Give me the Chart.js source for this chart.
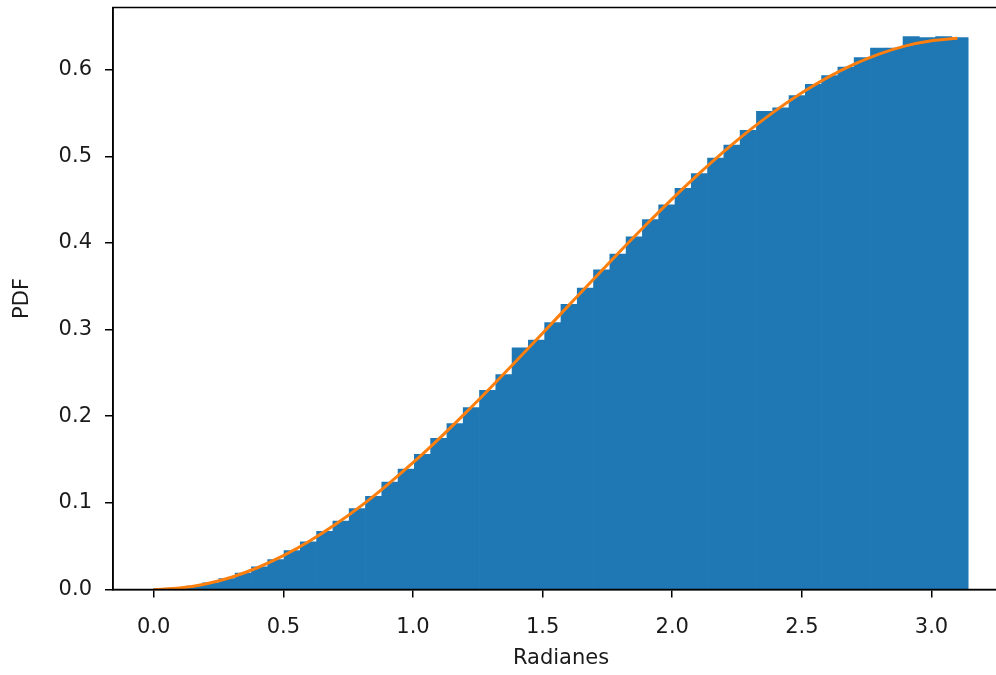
<!DOCTYPE html>
<html>
<head>
<meta charset="utf-8">
<script src="https://cdn.jsdelivr.net/npm/chart.js@4.4.1/dist/chart.umd.min.js"></script>
<style>
  html, body { margin: 0; padding: 0; background: #fff; overflow: hidden; }
  #wrap { width: 996px; height: 675px; overflow: hidden; }
</style>
</head>
<body>
<div id="wrap"><canvas id="grafica" width="1009" height="675"></canvas></div>
<script>
// histograma: 50 clases entre 0 y pi
var nBins = 50;
var binMax = 3.14159;
var alturas = [
  0.0003, 0.0016, 0.0040, 0.0078, 0.0125, 0.0190, 0.0262, 0.0345, 0.0448, 0.0550,
  0.0672, 0.0790, 0.0935, 0.1075, 0.1240, 0.1390, 0.1560, 0.1745, 0.1915, 0.2100,
  0.2300, 0.2480, 0.2790, 0.2880, 0.3080, 0.3290, 0.3480, 0.3690, 0.3870, 0.4070,
  0.4270, 0.4440, 0.4630, 0.4800, 0.4980, 0.5130, 0.5300, 0.5520, 0.5560, 0.5700,
  0.5830, 0.5930, 0.6030, 0.6140, 0.6250, 0.6250, 0.6380, 0.6370, 0.6380, 0.6370
];

// curva teorica (puntos leidos)
var curvaX = [0.0, 0.1, 0.2, 0.3, 0.4, 0.5, 0.6, 0.7, 0.8, 0.9, 1.0, 1.1, 1.2, 1.3, 1.4, 1.5,
              1.6, 1.7, 1.8, 1.9, 2.0, 2.1, 2.2, 2.3, 2.4, 2.5, 2.6, 2.7, 2.8, 2.9, 3.0, 3.1];
var curvaY = [0.0000, 0.0016, 0.0064, 0.0142, 0.0251, 0.0390, 0.0556, 0.0749, 0.0965, 0.1205,
              0.1463, 0.1739, 0.2030, 0.2332, 0.2642, 0.2958, 0.3276, 0.3593, 0.3906, 0.4212,
              0.4508, 0.4790, 0.5056, 0.5304, 0.5530, 0.5733, 0.5911, 0.6061, 0.6182, 0.6274,
              0.6334, 0.6363];

var xTicks = [0.0, 0.5, 1.0, 1.5, 2.0, 2.5, 3.0];
var yTicks = [0.0, 0.1, 0.2, 0.3, 0.4, 0.5, 0.6];

var ancho = binMax / nBins;
var barras = alturas.map(function (h, i) {
  return { x: (i + 0.5) * ancho, y: h };
});
var curva = curvaX.map(function (x, i) {
  return { x: x, y: curvaY[i] };
});

var fuente = { family: 'DejaVu Sans', size: 21 };

// marco completo alrededor del area de datos
var marco = {
  id: 'marco',
  afterDraw: function (chart) {
    var a = chart.chartArea, ctx = chart.ctx;
    ctx.save();
    ctx.strokeStyle = '#000';
    ctx.lineWidth = 1.5;
    ctx.strokeRect(a.left, a.top, a.right - a.left, a.bottom - a.top);
    ctx.restore();
  }
};

new Chart(document.getElementById('grafica'), {
  type: 'bar',
  data: {
    datasets: [{
      type: 'line',
      data: curva,
      borderColor: '#ff7f0e',
      borderWidth: 3,
      pointRadius: 0,
      cubicInterpolationMode: 'monotone',
      order: 1
    }, {
      type: 'bar',
      data: barras,
      backgroundColor: '#1f77b4',
      borderWidth: 0,
      barPercentage: 1.0,
      categoryPercentage: 1.0,
      grouped: false,
      order: 2
    }]
  },
  options: {
    responsive: false,
    animation: false,
    devicePixelRatio: 1,
    layout: { padding: { top: 7.5, right: 0, bottom: 0, left: 0 } },
    plugins: { legend: { display: false }, tooltip: { enabled: false } },
    scales: {
      x: {
        type: 'linear',
        offset: false,
        min: -0.157,
        max: 3.299,
        afterFit: function (s) { s.height = 85.5; s.paddingLeft = 0; s.paddingRight = 0; },
        afterBuildTicks: function (s) { s.ticks = xTicks.map(function (v) { return { value: v }; }); },
        ticks: {
          font: fuente, color: '#1a1a1a', padding: 17, maxRotation: 0,
          callback: function (v) { return v.toFixed(1); }
        },
        grid: { offset: false, drawOnChartArea: false, drawTicks: true, tickLength: 8, color: '#000', lineWidth: 1.5 },
        border: { display: true, color: '#000', width: 1.5 },
        title: { display: true, text: 'Radianes', font: fuente, color: '#1a1a1a', padding: { top: 0, bottom: 4 } }
      },
      y: {
        min: 0,
        max: 0.6717,
        afterFit: function (s) { s.width = 113; s.paddingTop = 0; s.paddingBottom = 0; },
        afterBuildTicks: function (s) { s.ticks = yTicks.map(function (v) { return { value: v }; }); },
        ticks: {
          font: fuente, color: '#1a1a1a', padding: 13,
          callback: function (v) { return v.toFixed(1); }
        },
        grid: { drawOnChartArea: false, drawTicks: true, tickLength: 8, color: '#000', lineWidth: 1.5 },
        border: { display: true, color: '#000', width: 1.5 },
        title: { display: true, text: 'PDF', font: fuente, color: '#1a1a1a', padding: { top: 10, bottom: 0 } }
      }
    }
  },
  plugins: [marco]
});
</script>
</body>
</html>
